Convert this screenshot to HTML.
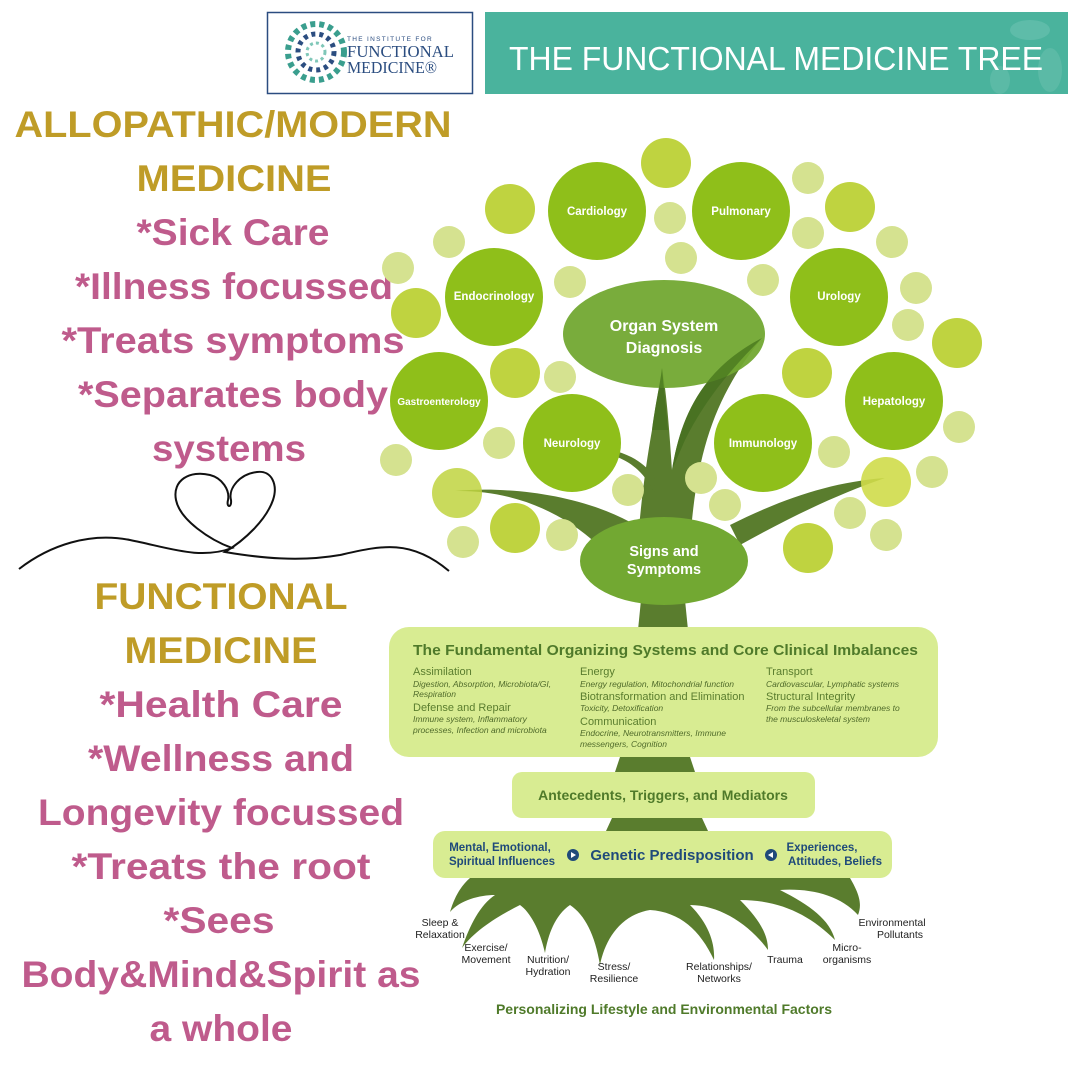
<!DOCTYPE html>
<html><head><meta charset="utf-8"><style>
html,body{margin:0;padding:0;background:#fff;width:1080px;height:1080px;overflow:hidden}
svg{display:block}
.l{font-family:"Liberation Sans",sans-serif;font-weight:bold;font-size:37px;text-anchor:middle}
.g{fill:#bf9c27}.p{fill:#bf5b8c}
.w{font-family:"Liberation Sans",sans-serif;fill:#fff;text-anchor:middle}
.dg{fill:#4f7a2a;font-family:"Liberation Sans",sans-serif}
.r{font-family:"Liberation Sans",sans-serif;font-size:10.5px;fill:#222;text-anchor:middle}
.s{font-size:11px;fill:#5a7d2e}
.i{font-size:8.5px;font-style:italic;fill:#4f6a2a}
</style></head><body>
<svg width="1080" height="1080" viewBox="0 0 1080 1080" xmlns="http://www.w3.org/2000/svg">
<rect width="1080" height="1080" fill="#fff"/>
<!-- header -->
<rect x="267.5" y="12.5" width="205" height="81" fill="#fff" stroke="#2b4d80" stroke-width="1.5"/>
<g>
<circle cx="316" cy="52" r="28" fill="none" stroke="#3a9e8e" stroke-width="6" stroke-dasharray="5 4"/>
<circle cx="316" cy="52" r="18" fill="none" stroke="#2b4d80" stroke-width="5" stroke-dasharray="4 4"/>
<circle cx="316" cy="52" r="9" fill="none" stroke="#7fc7b8" stroke-width="3" stroke-dasharray="3 3"/>
</g>
<text x="347" y="41" font-family="Liberation Sans,sans-serif" font-size="6.5" fill="#2b4d80" letter-spacing="1.3">THE INSTITUTE FOR</text>
<text x="347" y="57" font-family="Liberation Serif,serif" font-size="17" fill="#2b4d80" textLength="107" lengthAdjust="spacingAndGlyphs">FUNCTIONAL</text>
<text x="347" y="73" font-family="Liberation Serif,serif" font-size="17" fill="#2b4d80" textLength="90" lengthAdjust="spacingAndGlyphs">MEDICINE®</text>
<rect x="485" y="12" width="583" height="82" fill="#4ab39d"/>
<ellipse cx="1030" cy="30" rx="20" ry="10" fill="#6cc2b0" opacity=".6"/>
<ellipse cx="1050" cy="70" rx="12" ry="22" fill="#6cc2b0" opacity=".5"/>
<ellipse cx="1000" cy="80" rx="10" ry="14" fill="#6cc2b0" opacity=".5"/>
<text x="509" y="70" font-family="Liberation Sans,sans-serif" font-size="33" fill="#fff" textLength="534" lengthAdjust="spacingAndGlyphs">THE FUNCTIONAL MEDICINE TREE</text>

<!-- left text -->
<text class="l g" x="233" y="137" textLength="437" lengthAdjust="spacingAndGlyphs">ALLOPATHIC/MODERN</text>
<text class="l g" x="234" y="191" textLength="195" lengthAdjust="spacingAndGlyphs">MEDICINE</text>
<text class="l p" x="233" y="245" textLength="193" lengthAdjust="spacingAndGlyphs">*Sick Care</text>
<text class="l p" x="234" y="299" textLength="318" lengthAdjust="spacingAndGlyphs">*Illness focussed</text>
<text class="l p" x="233" y="353" textLength="343" lengthAdjust="spacingAndGlyphs">*Treats symptoms</text>
<text class="l p" x="233" y="407" textLength="310" lengthAdjust="spacingAndGlyphs">*Separates body</text>
<text class="l p" x="229" y="461" textLength="154" lengthAdjust="spacingAndGlyphs">systems</text>

<text class="l g" x="221" y="609" textLength="253" lengthAdjust="spacingAndGlyphs">FUNCTIONAL</text>
<text class="l g" x="221" y="663" textLength="193" lengthAdjust="spacingAndGlyphs">MEDICINE</text>
<text class="l p" x="221" y="717" textLength="243" lengthAdjust="spacingAndGlyphs">*Health Care</text>
<text class="l p" x="221" y="771" textLength="266" lengthAdjust="spacingAndGlyphs">*Wellness and</text>
<text class="l p" x="221" y="825" textLength="366" lengthAdjust="spacingAndGlyphs">Longevity focussed</text>
<text class="l p" x="221" y="879" textLength="299" lengthAdjust="spacingAndGlyphs">*Treats the root</text>
<text class="l p" x="219" y="933" textLength="111" lengthAdjust="spacingAndGlyphs">*Sees</text>
<text class="l p" x="221" y="987" textLength="399" lengthAdjust="spacingAndGlyphs">Body&amp;Mind&amp;Spirit as</text>
<text class="l p" x="221" y="1041" textLength="143" lengthAdjust="spacingAndGlyphs">a whole</text>

<!-- heart line -->
<path d="M19,569 C50,545 90,532 130,540 C170,548 200,560 232,548 C210,540 180,520 176,500 C172,480 190,470 210,475 C222,478 230,490 228,500 C226,508 232,508 231,500 C228,488 240,474 257,472 C272,470 278,485 273,500 C266,520 245,540 225,552 C260,558 300,562 340,555 C380,546 410,538 449,571" fill="none" stroke="#111" stroke-width="2"/>

<!-- trunk below -->
<path d="M641,600 L685,600 L688,630 L638,630Z" fill="#5a7d2e"/>
<path d="M620,757 L690,757 L695,772 L615,772Z" fill="#5a7d2e"/>
<path d="M612,818 L702,818 L708,831 L606,831Z" fill="#5a7d2e"/>

<!-- branches -->
<g fill="#5a7d2e">
<path d="M636,580 C638,520 645,470 652,430 C656,400 660,385 662,368 C667,395 670,440 672,470 C680,420 700,370 762,338 C720,390 700,440 692,520 L690,590Z"/>
<path d="M598,545 C560,510 510,490 455,491 C510,486 580,495 630,522Z"/>
<path d="M730,525 C780,500 830,482 885,478 C835,495 785,520 740,545Z"/>
<path d="M580,450 C610,445 640,455 655,478 L654,492 C640,465 620,452 580,450Z"/>
</g>

<!-- small circles -->
<g fill="#d5e290">
<circle cx="670" cy="218" r="16"/><circle cx="808" cy="178" r="16"/><circle cx="449" cy="242" r="16"/>
<circle cx="681" cy="258" r="16"/><circle cx="808" cy="233" r="16"/><circle cx="892" cy="242" r="16"/>
<circle cx="570" cy="282" r="16"/><circle cx="763" cy="280" r="16"/><circle cx="398" cy="268" r="16"/>
<circle cx="916" cy="288" r="16"/><circle cx="908" cy="325" r="16"/><circle cx="560" cy="377" r="16"/>
<circle cx="959" cy="427" r="16"/><circle cx="499" cy="443" r="16"/><circle cx="396" cy="460" r="16"/>
<circle cx="834" cy="452" r="16"/><circle cx="628" cy="490" r="16"/><circle cx="701" cy="478" r="16"/>
<circle cx="725" cy="505" r="16"/><circle cx="932" cy="472" r="16"/><circle cx="850" cy="513" r="16"/>
<circle cx="886" cy="535" r="16"/><circle cx="463" cy="542" r="16"/><circle cx="562" cy="535" r="16"/>
</g>
<g fill="#bfd340">
<circle cx="666" cy="163" r="25"/><circle cx="510" cy="209" r="25"/><circle cx="850" cy="207" r="25"/>
<circle cx="416" cy="313" r="25"/><circle cx="957" cy="343" r="25"/><circle cx="515" cy="373" r="25"/>
<circle cx="807" cy="373" r="25"/><circle cx="457" cy="493" r="25" opacity=".85"/><circle cx="515" cy="528" r="25"/>
<circle cx="808" cy="548" r="25"/>
</g>
<circle cx="886" cy="482" r="25" fill="#cfdc4a" opacity=".9"/>

<!-- big circles -->
<g fill="#8fbf1a">
<circle cx="597" cy="211" r="49"/><circle cx="741" cy="211" r="49"/>
<circle cx="494" cy="297" r="49"/><circle cx="839" cy="297" r="49"/>
<circle cx="439" cy="401" r="49"/><circle cx="894" cy="401" r="49"/>
<circle cx="572" cy="443" r="49"/><circle cx="763" cy="443" r="49"/>
</g>
<g class="w" style="font-size:11.5px;font-weight:bold">
<text x="597" y="215">Cardiology</text><text x="741" y="215">Pulmonary</text>
<text x="494" y="300">Endocrinology</text><text x="839" y="300">Urology</text>
<text x="439" y="405" style="font-size:10px">Gastroenterology</text><text x="894" y="405">Hepatology</text>
<text x="572" y="447">Neurology</text><text x="763" y="447">Immunology</text>
</g>
<ellipse cx="664" cy="334" rx="101" ry="54" fill="#72a832" opacity=".95"/>
<path d="M672,470 C680,420 700,370 762,338 C730,370 705,400 685,440Z" fill="#3e6a1a" opacity=".6"/>
<path d="M652,430 C656,400 660,385 662,368 L668,430 Z" fill="#3e6a1a" opacity=".6"/>
<text class="w" x="664" y="331" style="font-size:16px;font-weight:bold">Organ System</text>
<text class="w" x="664" y="353" style="font-size:16px;font-weight:bold">Diagnosis</text>
<ellipse cx="664" cy="561" rx="84" ry="44" fill="#72a832"/>
<text class="w" x="664" y="556" style="font-size:14.5px;font-weight:bold">Signs and</text>
<text class="w" x="664" y="574" style="font-size:14.5px;font-weight:bold">Symptoms</text>

<!-- fundamental box -->
<rect x="389" y="627" width="549" height="130" rx="20" fill="#d8ec92"/>
<text class="dg" x="413" y="655" font-size="14.5" font-weight="bold" textLength="505" lengthAdjust="spacingAndGlyphs">The Fundamental Organizing Systems and Core Clinical Imbalances</text>
<g class="dg">
<text x="413" y="675" class="s">Assimilation</text>
<text x="413" y="687" class="i">Digestion, Absorption, Microbiota/GI,</text>
<text x="413" y="697" class="i">Respiration</text>
<text x="413" y="711" class="s">Defense and Repair</text>
<text x="413" y="722" class="i">Immune system, Inflammatory</text>
<text x="413" y="733" class="i">processes, Infection and microbiota</text>
<text x="580" y="675" class="s">Energy</text>
<text x="580" y="687" class="i">Energy regulation, Mitochondrial function</text>
<text x="580" y="700" class="s">Biotransformation and Elimination</text>
<text x="580" y="711" class="i">Toxicity, Detoxification</text>
<text x="580" y="725" class="s">Communication</text>
<text x="580" y="736" class="i">Endocrine, Neurotransmitters, Immune</text>
<text x="580" y="747" class="i">messengers, Cognition</text>
<text x="766" y="675" class="s">Transport</text>
<text x="766" y="687" class="i">Cardiovascular, Lymphatic systems</text>
<text x="766" y="700" class="s">Structural Integrity</text>
<text x="766" y="711" class="i">From the subcellular membranes to</text>
<text x="766" y="722" class="i">the musculoskeletal system</text>
</g>
<rect x="512" y="772" width="303" height="46" rx="10" fill="#d8ec92"/>
<text class="dg" x="663" y="800" font-size="14" font-weight="bold" text-anchor="middle">Antecedents, Triggers, and Mediators</text>

<!-- roots -->
<g fill="#5a7d2e">
<path d="M470,878 L850,878 C860,895 862,905 858,915 C840,895 810,888 780,890 C810,905 830,920 835,940 C810,915 780,900 740,900 C760,920 768,935 768,950 C750,925 720,905 690,905 C710,925 715,945 714,960 C700,930 680,912 650,910 C620,915 605,940 600,965 C595,935 585,915 570,905 C555,915 548,935 545,953 C540,930 530,912 520,905 C500,915 475,930 462,948 C470,925 480,905 495,895 C480,895 460,900 450,912 C455,895 462,885 470,878Z"/>
</g>
<rect x="433" y="831" width="459" height="47" rx="12" fill="#d8ec92"/>
<g font-family="Liberation Sans,sans-serif" font-weight="bold" fill="#1f4a7a">
<text x="500" y="851" font-size="11.5" text-anchor="middle">Mental, Emotional,</text>
<text x="502" y="865" font-size="11.5" text-anchor="middle">Spiritual Influences</text>
<text x="672" y="860" font-size="15" text-anchor="middle">Genetic Predisposition</text>
<text x="822" y="851" font-size="11.5" text-anchor="middle">Experiences,</text>
<text x="835" y="865" font-size="11.5" text-anchor="middle">Attitudes, Beliefs</text>
</g>
<circle cx="573" cy="855" r="6" fill="#1f4a7a"/><path d="M571,852 L576,855 L571,858Z" fill="#fff"/>
<circle cx="771" cy="855" r="6" fill="#1f4a7a"/><path d="M773,852 L768,855 L773,858Z" fill="#fff"/>

<g class="r">
<text x="440" y="926">Sleep &amp;</text><text x="440" y="938">Relaxation</text>
<text x="486" y="951">Exercise/</text><text x="486" y="963">Movement</text>
<text x="548" y="963">Nutrition/</text><text x="548" y="975">Hydration</text>
<text x="614" y="970">Stress/</text><text x="614" y="982">Resilience</text>
<text x="719" y="970">Relationships/</text><text x="719" y="982">Networks</text>
<text x="785" y="963">Trauma</text>
<text x="847" y="951">Micro-</text><text x="847" y="963">organisms</text>
<text x="892" y="926">Environmental</text><text x="900" y="938">Pollutants</text>
</g>
<text class="dg" x="664" y="1014" font-size="14" text-anchor="middle" font-weight="bold" fill="#5a8a2e">Personalizing Lifestyle and Environmental Factors</text>
</svg>
</body></html>
